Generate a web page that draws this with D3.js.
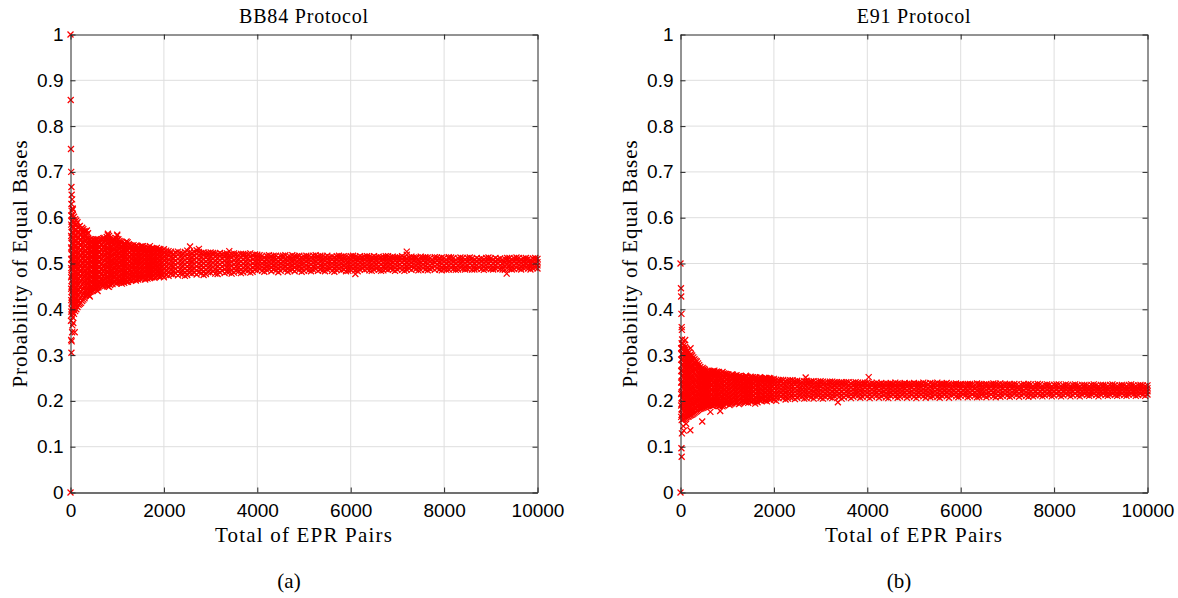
<!DOCTYPE html>
<html>
<head>
<meta charset="utf-8">
<script src="https://cdn.jsdelivr.net/npm/d3@7"></script>
<style>
  body { margin: 0; background: #fff; }
  .tick text { font-family: "Liberation Sans", Arial, sans-serif; font-size: 19px; fill: #000; }
  .lbl { font-family: "Liberation Serif", "Times New Roman", serif; fill: #000; }
</style>
</head>
<body>
<script>
// tick labels
const xTicks = [0, 2000, 4000, 6000, 8000, 10000];
const yTicks = [0, 0.1, 0.2, 0.3, 0.4, 0.5, 0.6, 0.7, 0.8, 0.9, 1];

// BB84: isolated points [pairs, probability]
const bb84Outliers = [[0,1],[0,0],[5,.857],[10,.75],[15,.7],[20,.667],[25,.65],[35,.64],[20,.63],[45,.62],
  [10,.375],[15,.333],[20,.305],[25,.33],[35,.35],[40,.365],[90,.35],[60,.37],[414,.428],[1000,.563],
  [800,.565],[2560,.537],[2750,.532],[3400,.527],[7200,.526],[9340,.478],[6100,.477],[1230,.46],[580,.44]];

// BB84: dense band, one entry per x position [pairs, [probabilities]]
const bb84Band = [
  [15,[.395,.42,.445,.47,.49,.51,.535,.56,.585,.605]],
  [50,[.382,.394,.407,.419,.431,.443,.455,.466,.478,.489,.5,.511,.522,.534,.546,.557,.569,.581,.594,.606,.618]],
  [100,[.396,.408,.42,.432,.444,.456,.467,.479,.49,.501,.513,.524,.536,.548,.56,.572,.584,.597]],
  [150,[.405,.418,.43,.441,.453,.464,.476,.487,.498,.51,.521,.532,.544,.556,.567,.579,.59]],
  [200,[.412,.425,.437,.449,.461,.472,.484,.495,.506,.517,.528,.54,.551,.563,.574,.582]],
  [250,[.418,.43,.442,.454,.466,.477,.489,.5,.511,.523,.534,.546,.557,.569,.578]],
  [300,[.424,.436,.448,.459,.47,.481,.493,.504,.515,.526,.538,.549,.56,.571]],
  [350,[.433,.444,.455,.466,.477,.488,.499,.51,.521,.532,.543,.553,.564,.572]],
  [400,[.43,.441,.452,.463,.474,.485,.496,.507,.518,.529,.54,.551]],
  [450,[.44,.451,.462,.473,.484,.495,.506,.517,.528,.539,.549]],
  [500,[.443,.454,.465,.476,.487,.498,.509,.52,.531,.542,.552]],
  [550,[.446,.457,.467,.478,.489,.5,.511,.522,.533,.544,.553]],
  [600,[.448,.459,.47,.481,.492,.503,.514,.525,.536,.547]],
  [700,[.452,.462,.472,.483,.493,.503,.514,.524,.535,.545,.555]],
  [800,[.45,.46,.471,.481,.492,.502,.513,.523,.534,.544,.554,.562]],
  [900,[.455,.465,.475,.485,.496,.506,.516,.527,.537,.548]],
  [1000,[.458,.468,.478,.488,.498,.508,.518,.528,.539,.55,.561]],
  [1100,[.456,.466,.476,.486,.496,.506,.516,.526,.536,.545]],
  [1200,[.46,.47,.48,.49,.5,.51,.52,.53,.54,.548]],
  [1300,[.462,.471,.481,.491,.5,.51,.519,.529,.538]],
  [1400,[.463,.472,.482,.491,.501,.51,.52,.529,.539]],
  [1500,[.466,.475,.484,.493,.502,.511,.52,.529,.537]],
  [1600,[.465,.474,.483,.492,.501,.51,.519,.528,.536]],
  [1700,[.468,.477,.486,.495,.504,.513,.522,.531,.538]],
  [1800,[.469,.478,.487,.496,.505,.514,.523,.532]],
  [1900,[.471,.479,.488,.497,.506,.515,.524,.532]],
  [2000,[.47,.479,.488,.497,.506,.514,.523,.531]],
  [2100,[.473,.482,.491,.5,.509,.518,.527]],
  [2200,[.476,.485,.494,.503,.512,.521]],
  [2300,[.474,.483,.492,.501,.51,.519,.526]],
  [2400,[.477,.486,.495,.504,.513,.522]],
  [2500,[.475,.484,.493,.502,.511,.52,.528]],
  [2600,[.478,.487,.496,.505,.514,.523]],
  [2700,[.476,.485,.494,.503,.512,.521,.529]],
  [2800,[.479,.488,.497,.506,.515,.523]],
  [2900,[.477,.486,.495,.504,.513,.522]],
  [3000,[.48,.489,.498,.507,.516,.524]],
  [3100,[.478,.487,.496,.505,.514,.522]],
  [3200,[.481,.49,.499,.508,.517,.523]],
  [3300,[.479,.488,.497,.506,.515,.521]],
  [3400,[.482,.491,.5,.509,.518]],
  [3500,[.48,.489,.498,.507,.516,.522]],
  [3600,[.483,.492,.501,.51,.519]],
  [3700,[.481,.49,.499,.508,.517,.521]],
  [3800,[.484,.493,.502,.511,.52]],
  [3900,[.482,.491,.5,.509,.518]],
  [4000,[.485,.494,.503,.512,.519]],
  [4100,[.484,.492,.5,.508,.516]],
  [4200,[.486,.494,.502,.51,.517]],
  [4300,[.483,.491,.499,.507,.515]],
  [4400,[.485,.493,.501,.509,.517]],
  [4500,[.484,.492,.5,.508,.516]],
  [4600,[.486,.494,.502,.51,.518]],
  [4700,[.485,.493,.501,.509,.515]],
  [4800,[.483,.491,.499,.507,.516]],
  [4900,[.486,.494,.502,.51,.517]],
  [5000,[.484,.492,.5,.508,.515]],
  [5100,[.485,.493,.501,.509,.516]],
  [5200,[.486,.494,.502,.51,.517]],
  [5300,[.484,.492,.5,.508,.515]],
  [5400,[.485,.493,.501,.509,.516]],
  [5500,[.487,.495,.503,.511,.517]],
  [5600,[.484,.492,.5,.508,.515]],
  [5700,[.486,.494,.502,.51,.516]],
  [5800,[.485,.493,.501,.509,.515]],
  [5900,[.483,.491,.499,.507,.515]],
  [6000,[.486,.494,.502,.51,.516]],
  [6100,[.485,.493,.501,.509,.515]],
  [6200,[.487,.495,.503,.511,.516]],
  [6300,[.486,.494,.502,.51,.515]],
  [6400,[.485,.493,.501,.509,.515]],
  [6500,[.487,.495,.503,.511,.516]],
  [6600,[.486,.494,.502,.51,.515]],
  [6700,[.485,.493,.501,.509,.514]],
  [6800,[.487,.495,.503,.511,.516]],
  [6900,[.486,.494,.502,.51,.515]],
  [7000,[.487,.495,.503,.511,.514]],
  [7100,[.486,.494,.502,.51,.516]],
  [7200,[.487,.495,.503,.511,.519]],
  [7300,[.486,.494,.502,.51,.515]],
  [7400,[.488,.496,.504,.511,.514]],
  [7500,[.486,.494,.502,.51,.515]],
  [7600,[.487,.495,.503,.511,.514]],
  [7700,[.488,.496,.504,.512]],
  [7800,[.486,.494,.502,.51,.514]],
  [7900,[.487,.495,.503,.511]],
  [8000,[.488,.496,.504,.512]],
  [8100,[.487,.495,.503,.511,.514]],
  [8200,[.488,.496,.504,.512]],
  [8300,[.487,.495,.503,.511]],
  [8400,[.489,.497,.505,.512]],
  [8500,[.488,.496,.504,.512]],
  [8600,[.487,.495,.503,.511]],
  [8700,[.489,.497,.505,.512]],
  [8800,[.488,.496,.504,.511]],
  [8900,[.489,.497,.505,.512]],
  [9000,[.488,.496,.504,.511]],
  [9100,[.489,.497,.505,.512]],
  [9200,[.488,.496,.504,.511]],
  [9300,[.486,.494,.502,.51]],
  [9400,[.489,.497,.505,.512]],
  [9500,[.488,.496,.504,.511]],
  [9600,[.489,.497,.505,.512]],
  [9700,[.49,.497,.504,.511]],
  [9800,[.489,.496,.503,.51]],
  [9900,[.49,.497,.504,.511]],
  [10000,[.489,.496,.503,.51]]
];

// BB84: band points between the columns above
const bb84BandB = [
  [650,[.455,.465,.476,.487,.497,.508,.519,.53,.541,.55]],
  [750,[.457,.467,.478,.488,.498,.509,.519,.53,.54,.551]],
  [850,[.453,.463,.473,.484,.494,.504,.515,.526,.536,.547,.556]],
  [950,[.461,.471,.481,.491,.501,.511,.521,.532,.543,.552]],
  [1050,[.46,.47,.481,.491,.501,.511,.521,.531,.541,.549]],
  [1150,[.458,.468,.478,.488,.498,.508,.518,.528,.538,.544]],
  [1250,[.464,.474,.484,.494,.504,.514,.524,.534,.542]],
  [1350,[.466,.476,.486,.496,.505,.514,.524,.533,.54]],
  [1450,[.465,.475,.485,.494,.504,.513,.523,.532,.536]],
  [1550,[.469,.478,.487,.496,.505,.514,.523,.532,.538]],
  [1650,[.467,.476,.485,.494,.503,.512,.521,.53,.535]],
  [1750,[.47,.479,.488,.497,.506,.515,.524,.533]],
  [1850,[.473,.482,.491,.5,.509,.518,.527,.534]],
  [1950,[.474,.483,.492,.501,.51,.519,.527]],
  [2050,[.475,.484,.493,.502,.511,.52,.528]],
  [2150,[.477,.486,.495,.504,.513,.522,.526]],
  [2250,[.479,.488,.497,.506,.515,.524]],
  [2350,[.478,.487,.496,.505,.514,.523]],
  [2450,[.473,.481,.49,.499,.508,.517,.525]],
  [2550,[.479,.488,.497,.506,.515,.524]],
  [2650,[.48,.489,.498,.507,.516,.525]],
  [2750,[.481,.49,.499,.508,.517,.525]],
  [2850,[.475,.483,.492,.501,.51,.519,.524]],
  [2950,[.481,.49,.499,.508,.517,.523]],
  [3050,[.483,.492,.501,.51,.519,.523]],
  [3150,[.477,.485,.494,.503,.512,.52]],
  [3250,[.484,.493,.502,.511,.52]],
  [3350,[.482,.491,.5,.509,.518,.522]],
  [3450,[.478,.486,.495,.504,.513,.521]],
  [3550,[.484,.493,.502,.511,.52]],
  [3650,[.479,.487,.496,.505,.514,.521]],
  [3750,[.485,.494,.503,.512,.52]],
  [3850,[.48,.488,.497,.506,.515,.522]],
  [3950,[.486,.495,.504,.513,.52]],
  [4050,[.488,.496,.504,.512,.518]],
  [4150,[.482,.489,.497,.505,.513]],
  [4250,[.488,.496,.504,.512,.518]],
  [4350,[.487,.495,.503,.511,.517]],
  [4450,[.481,.489,.497,.505,.513]],
  [4550,[.488,.496,.504,.512,.517]],
  [4650,[.482,.49,.498,.506,.514]],
  [4750,[.487,.495,.503,.511,.518]],
  [4850,[.488,.496,.504,.512,.516]],
  [4950,[.482,.49,.498,.506,.513]],
  [5050,[.488,.496,.504,.512,.517]],
  [5150,[.483,.49,.498,.506,.514]],
  [5250,[.488,.496,.504,.512,.518]],
  [5350,[.487,.495,.503,.511,.517]],
  [5450,[.483,.49,.498,.506,.514]],
  [5550,[.489,.497,.505,.513]],
  [5650,[.482,.489,.497,.505,.513]],
  [5750,[.488,.496,.504,.512,.517]],
  [5850,[.487,.495,.503,.511,.516]],
  [5950,[.484,.49,.498,.506,.514]],
  [6050,[.488,.496,.504,.512,.517]],
  [6150,[.483,.49,.498,.506,.513]],
  [6250,[.489,.497,.505,.513]],
  [6350,[.488,.496,.504,.512,.516]],
  [6450,[.484,.491,.499,.507,.513]],
  [6550,[.489,.497,.505,.513]],
  [6650,[.484,.49,.498,.506,.513]],
  [6750,[.488,.496,.504,.512,.516]],
  [6850,[.489,.497,.505,.513]],
  [6950,[.484,.491,.499,.507,.513]],
  [7050,[.49,.498,.506,.513]],
  [7150,[.484,.49,.498,.506,.513]],
  [7250,[.489,.497,.505,.513]],
  [7350,[.49,.498,.506,.513]],
  [7450,[.485,.492,.5,.508]],
  [7550,[.49,.498,.506,.513]],
  [7650,[.485,.491,.499,.507,.513]],
  [7750,[.49,.5,.508]],
  [7850,[.49,.498,.506,.513]],
  [7950,[.485,.491,.499,.507,.513]],
  [8050,[.486,.492,.5,.508]],
  [8150,[.49,.499,.507,.513]],
  [8250,[.486,.492,.5,.508]],
  [8350,[.49,.499,.507,.513]],
  [8450,[.487,.493,.501,.509]],
  [8550,[.49,.5,.508,.513]],
  [8650,[.487,.492,.5,.508]],
  [8750,[.491,.501,.509]],
  [8850,[.486,.493,.501,.509]],
  [8950,[.49,.5,.508,.513]],
  [9050,[.487,.492,.5,.508]],
  [9150,[.491,.501,.509]],
  [9250,[.487,.492,.5,.508]],
  [9350,[.49,.499,.507,.512]],
  [9450,[.487,.493,.501,.509]],
  [9550,[.491,.5,.508,.513]],
  [9650,[.487,.493,.501,.508]],
  [9750,[.491,.5,.508,.512]],
  [9850,[.487,.493,.5,.507]],
  [9950,[.491,.5,.508,.512]]
];

// BB84: extra points in the wide early part of the band
const bb84BandC = [
  [25,[.388,.401,.414,.426,.438,.45,.462,.474,.486,.497,.508,.52,.532,.544,.556,.568,.58,.592,.604,.615]],
  [75,[.39,.402,.414,.426,.438,.45,.462,.473,.485,.496,.507,.519,.53,.542,.554,.566,.578,.59,.602]],
  [125,[.4,.412,.424,.436,.448,.46,.471,.482,.494,.505,.516,.527,.539,.551,.562,.574,.586,.594]],
  [175,[.41,.42,.432,.444,.456,.467,.478,.49,.501,.512,.523,.534,.546,.557,.569,.58]],
  [225,[.414,.427,.439,.451,.463,.474,.486,.497,.508,.519,.53,.542,.553,.564,.575]],
  [275,[.421,.433,.445,.456,.467,.478,.49,.501,.512,.523,.534,.545,.557,.568,.575]],
  [325,[.43,.441,.452,.463,.474,.485,.496,.507,.518,.529,.54,.551,.562,.57]],
  [375,[.436,.447,.458,.469,.48,.491,.502,.513,.524,.535,.546,.556,.566]],
  [425,[.438,.448,.459,.47,.481,.492,.503,.514,.525,.536,.546,.553]],
  [475,[.441,.449,.459,.47,.481,.492,.503,.514,.525,.536,.546,.553]],
  [525,[.444,.451,.462,.473,.484,.495,.506,.517,.528,.539,.549]],
  [575,[.447,.453,.464,.475,.486,.497,.508,.519,.53,.541,.551]],
  [625,[.451,.46,.47,.481,.492,.503,.513,.524,.535,.545,.552]],
  [675,[.45,.458,.468,.479,.49,.5,.511,.521,.532,.542,.553]],
  [725,[.455,.464,.474,.485,.495,.506,.516,.527,.537,.547,.556]],
  [775,[.453,.462,.472,.482,.493,.503,.514,.524,.535,.545,.558]],
  [825,[.449,.457,.467,.477,.488,.498,.509,.519,.53,.54,.55,.56]],
  [875,[.457,.467,.477,.487,.498,.508,.518,.529,.539,.55]],
  [925,[.459,.469,.479,.489,.499,.509,.519,.53,.541,.551]],
  [975,[.456,.464,.474,.484,.494,.504,.514,.524,.534,.545,.555]],
  [1025,[.462,.472,.483,.493,.503,.513,.523,.534,.544,.553]],
  [1075,[.459,.468,.478,.488,.498,.508,.518,.528,.538,.547]],
  [1125,[.461,.471,.481,.491,.501,.511,.521,.531,.541]],
  [1175,[.463,.473,.483,.493,.503,.513,.523,.533,.543]],
  [1225,[.461,.47,.479,.489,.499,.509,.519,.529,.539,.546]],
  [1275,[.467,.476,.486,.495,.505,.514,.524,.533,.54]],
  [1325,[.464,.474,.483,.493,.502,.512,.521,.531,.538]],
  [1375,[.468,.477,.487,.496,.506,.515,.524,.534]],
  [1425,[.467,.477,.486,.496,.505,.515,.524,.533,.539]],
  [1475,[.47,.479,.488,.497,.506,.515,.524,.533]],
  [1525,[.468,.477,.486,.495,.504,.513,.522,.531,.537]],
  [1575,[.471,.48,.489,.498,.507,.516,.525,.533]],
  [1625,[.469,.478,.487,.496,.505,.514,.523,.532]],
  [1675,[.472,.481,.49,.499,.508,.517,.526,.534]],
  [1725,[.47,.479,.488,.497,.506,.515,.524,.532]],
  [1775,[.473,.482,.491,.5,.509,.518,.527,.533]],
  [1825,[.471,.48,.489,.498,.507,.516,.525,.531]],
  [1875,[.475,.484,.493,.502,.511,.52,.528]],
  [1925,[.472,.481,.49,.499,.508,.517,.526,.531]],
  [1975,[.476,.485,.494,.503,.512,.521,.529]]
];

// E91: isolated points
const e91Outliers = [[0,.5],[0,0],[10,.446],[15,.428],[20,.39],[25,.361],[30,.355],[35,.334],[100,.333],
  [215,.315],[20,.0965],[25,.078],[30,.129],[70,.135],[210,.136],[465,.155],[640,.176],[850,.178],
  [2680,.251],[4030,.252],[3370,.197],[1600,.194],[60,.145],[120,.15]];

// E91: dense band
const e91Band = [
  [15,[.165,.19,.215,.24,.265,.29,.315]],
  [50,[.16,.172,.184,.196,.208,.22,.232,.244,.256,.268,.28,.292,.304,.316,.325]],
  [100,[.163,.175,.187,.199,.211,.223,.235,.247,.259,.271,.283,.295,.307,.318]],
  [150,[.165,.177,.189,.201,.213,.225,.237,.249,.261,.273,.285,.297,.31]],
  [200,[.168,.18,.192,.204,.216,.228,.24,.252,.264,.276,.288,.3]],
  [250,[.17,.182,.194,.206,.218,.23,.242,.254,.266,.278,.29,.299]],
  [300,[.174,.186,.198,.21,.222,.234,.246,.258,.27,.282,.291]],
  [350,[.178,.189,.2,.211,.222,.233,.244,.255,.266,.277,.286]],
  [400,[.182,.193,.204,.215,.226,.237,.248,.259,.27,.278]],
  [450,[.184,.195,.206,.217,.228,.239,.25,.261,.27]],
  [500,[.186,.197,.208,.219,.23,.241,.252,.263,.27]],
  [550,[.188,.199,.21,.221,.232,.243,.254,.264]],
  [600,[.19,.2,.211,.222,.233,.244,.255,.264]],
  [700,[.189,.199,.209,.219,.229,.239,.249,.259,.265]],
  [800,[.192,.202,.212,.222,.232,.242,.252,.262]],
  [900,[.188,.198,.208,.218,.228,.238,.248,.258,.263]],
  [1000,[.194,.203,.212,.221,.23,.239,.248,.257]],
  [1100,[.195,.204,.213,.222,.231,.24,.249,.258]],
  [1200,[.197,.206,.215,.224,.233,.242,.251,.256]],
  [1300,[.198,.207,.216,.225,.234,.243,.252]],
  [1400,[.197,.206,.215,.224,.233,.242,.251,.255]],
  [1500,[.2,.209,.218,.227,.236,.245,.253]],
  [1600,[.199,.208,.217,.226,.235,.244,.251]],
  [1700,[.202,.211,.22,.229,.238,.247,.252]],
  [1800,[.201,.21,.219,.228,.237,.246,.25]],
  [1900,[.204,.212,.22,.228,.236,.244,.25]],
  [2000,[.203,.211,.219,.227,.235,.243,.248]],
  [2100,[.206,.214,.222,.23,.238,.245]],
  [2200,[.207,.215,.223,.231,.239,.246]],
  [2300,[.205,.213,.221,.229,.237,.244]],
  [2400,[.208,.216,.224,.232,.24,.245]],
  [2500,[.207,.215,.223,.231,.239,.244]],
  [2600,[.209,.217,.225,.233,.241]],
  [2700,[.206,.214,.222,.23,.238,.244]],
  [2800,[.208,.216,.224,.232,.24,.243]],
  [2900,[.21,.218,.226,.234,.241]],
  [3000,[.207,.215,.223,.231,.239,.243]],
  [3100,[.209,.217,.225,.233,.24]],
  [3200,[.208,.216,.224,.232,.24,.242]],
  [3300,[.21,.218,.226,.234,.241]],
  [3400,[.209,.217,.225,.233,.24]],
  [3500,[.208,.216,.224,.232,.24]],
  [3600,[.21,.218,.226,.234,.241]],
  [3700,[.209,.217,.225,.233,.24]],
  [3800,[.211,.219,.227,.235,.24]],
  [3900,[.209,.217,.225,.233,.239]],
  [4000,[.21,.218,.226,.234,.24]],
  [4100,[.209,.217,.225,.233,.239]],
  [4200,[.211,.219,.227,.235,.24]],
  [4300,[.21,.218,.226,.234,.239]],
  [4400,[.208,.216,.224,.232,.238]],
  [4500,[.211,.219,.227,.235,.239]],
  [4600,[.21,.218,.226,.234,.24]],
  [4700,[.209,.217,.225,.233,.238]],
  [4800,[.211,.219,.227,.235,.239]],
  [4900,[.21,.218,.226,.234,.238]],
  [5000,[.209,.217,.225,.233,.239]],
  [5100,[.211,.219,.227,.235,.238]],
  [5200,[.21,.218,.226,.234,.24]],
  [5300,[.212,.22,.228,.236]],
  [5400,[.21,.218,.226,.234,.238]],
  [5500,[.209,.217,.225,.233,.24]],
  [5600,[.211,.219,.227,.235,.238]],
  [5700,[.21,.218,.226,.234,.239]],
  [5800,[.212,.22,.228,.236]],
  [5900,[.21,.218,.226,.234,.238]],
  [6000,[.211,.219,.227,.235,.237]],
  [6100,[.212,.22,.228,.236]],
  [6200,[.21,.218,.226,.234,.237]],
  [6300,[.211,.219,.227,.235]],
  [6400,[.209,.217,.225,.233,.237]],
  [6500,[.212,.22,.228,.236]],
  [6600,[.211,.219,.227,.235]],
  [6700,[.21,.218,.226,.234,.238]],
  [6800,[.212,.22,.228,.236]],
  [6900,[.211,.219,.227,.235]],
  [7000,[.212,.22,.228,.236]],
  [7100,[.211,.219,.227,.235]],
  [7200,[.213,.221,.229,.236]],
  [7300,[.212,.22,.228,.235]],
  [7400,[.211,.219,.227,.235]],
  [7500,[.213,.221,.229,.236]],
  [7600,[.212,.22,.228,.235]],
  [7700,[.213,.221,.229,.236]],
  [7800,[.212,.22,.228,.235]],
  [7900,[.214,.221,.228,.235]],
  [8000,[.212,.22,.228,.235]],
  [8100,[.213,.221,.229,.236]],
  [8200,[.212,.22,.228,.234]],
  [8300,[.214,.221,.228,.235]],
  [8400,[.213,.221,.229,.235]],
  [8500,[.212,.22,.228,.234]],
  [8600,[.214,.221,.228,.235]],
  [8700,[.213,.22,.227,.234]],
  [8800,[.214,.221,.228,.235]],
  [8900,[.213,.22,.227,.234]],
  [9000,[.214,.221,.228,.235]],
  [9100,[.213,.22,.227,.234]],
  [9200,[.214,.221,.228,.235]],
  [9300,[.213,.22,.227,.234]],
  [9400,[.214,.221,.228,.234]],
  [9500,[.213,.22,.227,.234]],
  [9600,[.214,.221,.228,.235]],
  [9700,[.214,.221,.228,.234]],
  [9800,[.213,.22,.227,.234]],
  [9900,[.214,.221,.228,.234]],
  [10000,[.214,.221,.228,.234]]
];

// E91: band points between the columns above
const e91BandB = [
  [650,[.192,.202,.213,.224,.235,.246,.257,.264]],
  [750,[.194,.204,.214,.224,.234,.244,.254,.262]],
  [850,[.19,.2,.21,.22,.23,.24,.25,.26]],
  [950,[.196,.205,.214,.223,.232,.241,.25,.259]],
  [1050,[.191,.199,.208,.217,.226,.235,.244,.253]],
  [1150,[.199,.208,.217,.226,.235,.244,.253]],
  [1250,[.193,.202,.211,.22,.229,.238,.247,.254]],
  [1350,[.2,.209,.218,.227,.236,.245,.25]],
  [1450,[.196,.204,.213,.222,.231,.24,.249]],
  [1550,[.202,.211,.22,.229,.238,.247,.252]],
  [1650,[.197,.204,.213,.222,.231,.24,.249]],
  [1750,[.203,.212,.221,.23,.239,.248]],
  [1850,[.199,.206,.215,.224,.233,.242,.249]],
  [1950,[.205,.214,.223,.232,.241,.247]],
  [2050,[.2,.207,.215,.223,.231,.239,.246]],
  [2150,[.209,.217,.225,.233,.241,.246]],
  [2250,[.203,.211,.219,.227,.235,.243]],
  [2350,[.208,.216,.224,.232,.24,.245]],
  [2450,[.204,.212,.22,.228,.236,.243]],
  [2550,[.21,.218,.226,.234,.242]],
  [2650,[.205,.213,.221,.229,.237,.243]],
  [2750,[.21,.218,.226,.234,.241]],
  [2850,[.205,.212,.22,.228,.236,.243]],
  [2950,[.211,.219,.227,.235,.242]],
  [3050,[.205,.212,.22,.228,.236,.242]],
  [3150,[.211,.219,.227,.235,.241]],
  [3250,[.206,.213,.221,.229,.237,.242]],
  [3350,[.212,.22,.228,.236,.241]],
  [3450,[.205,.213,.221,.229,.237,.241]],
  [3550,[.212,.22,.228,.236,.241]],
  [3650,[.206,.214,.222,.23,.238]],
  [3750,[.212,.22,.228,.236,.241]],
  [3850,[.207,.215,.223,.231,.238]],
  [3950,[.213,.221,.229,.237,.24]],
  [4050,[.206,.214,.222,.23,.237]],
  [4150,[.213,.221,.229,.237]],
  [4250,[.207,.215,.223,.231,.237]],
  [4350,[.213,.221,.229,.237]],
  [4450,[.206,.214,.222,.23,.237]],
  [4550,[.213,.221,.229,.237]],
  [4650,[.207,.215,.223,.231,.238]],
  [4750,[.213,.221,.229,.236]],
  [4850,[.207,.215,.223,.231,.237]],
  [4950,[.213,.221,.229,.237]],
  [5050,[.206,.214,.222,.23,.237]],
  [5150,[.213,.221,.229,.237]],
  [5250,[.207,.214,.222,.23,.238]],
  [5350,[.208,.216,.224,.232,.239]],
  [5450,[.213,.221,.229,.237]],
  [5550,[.207,.214,.222,.23,.237]],
  [5650,[.213,.221,.229,.237]],
  [5750,[.207,.215,.223,.231,.237]],
  [5850,[.214,.222,.23,.237]],
  [5950,[.208,.215,.223,.231,.236]],
  [6050,[.214,.222,.23,.236]],
  [6150,[.208,.216,.224,.232,.237]],
  [6250,[.214,.222,.23,.236]],
  [6350,[.208,.215,.223,.231,.238]],
  [6450,[.213,.221,.229,.236]],
  [6550,[.208,.216,.224,.232,.237]],
  [6650,[.214,.222,.23,.236]],
  [6750,[.208,.216,.224,.232,.237]],
  [6850,[.209,.216,.224,.232,.238]],
  [6950,[.215,.223,.231,.237]],
  [7050,[.209,.216,.224,.232,.237]],
  [7150,[.215,.223,.231,.237]],
  [7250,[.209,.217,.225,.232]],
  [7350,[.215,.223,.231,.237]],
  [7450,[.209,.216,.224,.232,.237]],
  [7550,[.21,.217,.225,.232]],
  [7650,[.215,.224,.232,.237]],
  [7750,[.21,.217,.225,.232]],
  [7850,[.215,.224,.232,.236]],
  [7950,[.21,.217,.225,.232]],
  [8050,[.216,.224,.232,.236]],
  [8150,[.21,.217,.225,.232]],
  [8250,[.216,.224,.231,.236]],
  [8350,[.21,.217,.225,.232]],
  [8450,[.216,.224,.231,.236]],
  [8550,[.21,.217,.225,.232]],
  [8650,[.216,.224,.231,.235]],
  [8750,[.211,.217,.225,.232]],
  [8850,[.216,.224,.231,.236]],
  [8950,[.21,.217,.225,.232]],
  [9050,[.216,.224,.231,.235]],
  [9150,[.211,.217,.225,.232]],
  [9250,[.216,.224,.231,.236]],
  [9350,[.211,.217,.225,.232]],
  [9450,[.216,.224,.231,.235]],
  [9550,[.211,.217,.225,.232]],
  [9650,[.216,.224,.231,.236]],
  [9750,[.211,.218,.225,.232]],
  [9850,[.216,.224,.231,.235]],
  [9950,[.211,.218,.225,.232]]
];

// E91: extra points in the wide early part of the band
const e91BandC = [
  [25,[.158,.17,.182,.194,.206,.218,.23,.242,.254,.266,.278,.29,.302,.314,.326]],
  [75,[.161,.169,.181,.193,.205,.217,.229,.241,.253,.265,.277,.289,.301,.313,.322]],
  [125,[.164,.171,.183,.195,.207,.219,.231,.243,.255,.267,.279,.291,.303,.314]],
  [175,[.166,.174,.186,.198,.21,.222,.234,.246,.258,.27,.282,.294,.305]],
  [225,[.169,.176,.188,.2,.212,.224,.236,.248,.26,.272,.284,.296,.302]],
  [275,[.172,.18,.192,.204,.216,.228,.24,.252,.264,.276,.288,.295]],
  [325,[.176,.183,.195,.207,.219,.231,.243,.255,.267,.279,.288]],
  [375,[.18,.187,.198,.209,.22,.231,.242,.253,.264,.275,.282]],
  [425,[.183,.19,.2,.211,.222,.233,.244,.255,.266,.274]],
  [475,[.185,.192,.202,.213,.224,.235,.246,.257,.267,.272]],
  [525,[.187,.193,.204,.215,.226,.237,.248,.259,.268]],
  [575,[.189,.195,.206,.217,.228,.239,.25,.26,.266]],
  [625,[.191,.197,.208,.219,.23,.241,.252,.261,.265]],
  [675,[.19,.196,.206,.216,.226,.236,.246,.256,.264]],
  [725,[.192,.197,.207,.217,.227,.237,.247,.257,.266]],
  [775,[.191,.198,.208,.218,.228,.238,.248,.258,.264]],
  [825,[.189,.196,.206,.216,.226,.236,.246,.256,.263]],
  [875,[.193,.2,.21,.22,.23,.24,.25,.26]],
  [925,[.19,.197,.206,.215,.224,.233,.242,.251,.26]],
  [975,[.195,.201,.21,.219,.228,.237,.246,.255,.259]],
  [1025,[.197,.206,.215,.224,.233,.242,.251,.258]],
  [1075,[.193,.201,.21,.219,.228,.237,.246,.255]],
  [1125,[.197,.206,.215,.224,.233,.242,.251,.257]],
  [1175,[.196,.203,.212,.221,.23,.239,.248,.255]],
  [1225,[.2,.209,.218,.227,.236,.245,.253]],
  [1275,[.195,.204,.213,.222,.231,.24,.249,.254]],
  [1325,[.201,.21,.219,.228,.237,.246,.252]],
  [1375,[.198,.206,.215,.224,.233,.242,.25]],
  [1425,[.199,.208,.217,.226,.235,.244,.253]],
  [1475,[.201,.21,.219,.228,.237,.246,.25]],
  [1525,[.198,.206,.215,.224,.233,.242,.25]],
  [1575,[.203,.212,.221,.23,.239,.248]],
  [1625,[.2,.207,.216,.225,.234,.243,.251]],
  [1675,[.203,.212,.221,.23,.239,.248]],
  [1725,[.2,.208,.217,.226,.235,.244,.25]],
  [1775,[.204,.213,.222,.231,.24,.248]],
  [1825,[.202,.209,.218,.227,.236,.245,.25]],
  [1875,[.206,.214,.223,.232,.241,.247]],
  [1925,[.202,.21,.218,.226,.234,.242,.249]],
  [1975,[.207,.215,.223,.231,.239,.246]]
];

const panels = [
  { title: "BB84 Protocol", caption: "(a)", bands: [bb84Band, bb84BandB, bb84BandC], outliers: bb84Outliers, left: 70.5 },
  { title: "E91 Protocol", caption: "(b)", bands: [e91Band, e91BandB, e91BandC], outliers: e91Outliers, left: 680.5 }
];

var width = 1178, height = 598;
var plotTop = 34.5, plotBottom = 492.5, plotW = 467;

var svg = d3.select("body").append("svg")
  .attr("width", width)
  .attr("height", height);

var cross = "M-3,-3L3,3M-3,3L3,-3";

panels.forEach(function (p) {
  var x = d3.scaleLinear().domain([0, 10000]).range([p.left, p.left + plotW]);
  var y = d3.scaleLinear().domain([0, 1]).range([plotBottom, plotTop]);

  var g = svg.append("g");

  // grid
  g.append("g").selectAll("line").data(xTicks.slice(1, -1)).enter().append("line")
    .attr("x1", d => x(d)).attr("x2", d => x(d))
    .attr("y1", plotTop).attr("y2", plotBottom)
    .attr("stroke", "#dedede").attr("stroke-width", 1);
  g.append("g").selectAll("line").data(yTicks.slice(1, -1)).enter().append("line")
    .attr("y1", d => y(d)).attr("y2", d => y(d))
    .attr("x1", p.left).attr("x2", p.left + plotW)
    .attr("stroke", "#dedede").attr("stroke-width", 1);

  // points
  var pts = [];
  p.bands.forEach(function (band) {
    band.forEach(function (c) {
      c[1].forEach(function (v) { pts.push([c[0], v]); });
    });
  });
  p.outliers.forEach(function (o) { pts.push(o); });

  g.append("g").selectAll("path").data(pts).enter().append("path")
    .attr("d", cross)
    .attr("transform", d => "translate(" + x(d[0]) + "," + y(d[1]) + ")")
    .attr("fill", "none")
    .attr("stroke", "#ff0000")
    .attr("stroke-width", 1.25);

  // axes (ticks inward)
  var fmt = d3.format("");
  g.append("g").attr("transform", "translate(0," + plotBottom + ")")
    .call(d3.axisBottom(x).tickValues(xTicks).tickSizeInner(-5).tickSizeOuter(0).tickPadding(11).tickFormat(fmt))
    .call(a => a.select(".domain").attr("stroke", "#404040").attr("stroke-width", 1.6))
    .call(a => a.selectAll(".tick line").attr("stroke", "#262626"));
  g.append("g").attr("transform", "translate(" + p.left + ",0)")
    .call(d3.axisLeft(y).tickValues(yTicks).tickSizeInner(-5).tickSizeOuter(0).tickPadding(7).tickFormat(fmt))
    .call(a => a.select(".domain").attr("stroke", "#262626"))
    .call(a => a.selectAll(".tick line").attr("stroke", "#262626"));
  g.append("g").attr("transform", "translate(0," + plotTop + ")")
    .call(d3.axisTop(x).tickValues(xTicks).tickSizeInner(-5).tickSizeOuter(0).tickFormat(""))
    .call(a => a.select(".domain").attr("stroke", "#262626"))
    .call(a => a.selectAll(".tick line").attr("stroke", "#262626"));
  g.append("g").attr("transform", "translate(" + (p.left + plotW) + ",0)")
    .call(d3.axisRight(y).tickValues(yTicks).tickSizeInner(-5).tickSizeOuter(0).tickFormat(""))
    .call(a => a.select(".domain").attr("stroke", "#262626"))
    .call(a => a.selectAll(".tick line").attr("stroke", "#262626"));

  var cx = p.left + plotW / 2;
  g.append("text").attr("class", "lbl")
    .attr("x", cx).attr("y", 23)
    .attr("text-anchor", "middle").attr("font-size", 20)
    .attr("letter-spacing", 0.8)
    .text(p.title);
  g.append("text").attr("class", "lbl")
    .attr("x", cx).attr("y", 542)
    .attr("text-anchor", "middle").attr("font-size", 21)
    .attr("letter-spacing", 1.2)
    .text("Total of EPR Pairs");
  g.append("text").attr("class", "lbl")
    .attr("transform", "translate(" + (p.left - 44) + "," + ((plotTop + plotBottom) / 2) + ") rotate(-90)")
    .attr("text-anchor", "middle").attr("font-size", 21)
    .attr("letter-spacing", 0.9)
    .text("Probability of Equal Bases");
  g.append("text").attr("class", "lbl")
    .attr("x", cx - 15).attr("y", 588)
    .attr("text-anchor", "middle").attr("font-size", 21)
    .text(p.caption);
});
</script>
</body>
</html>
